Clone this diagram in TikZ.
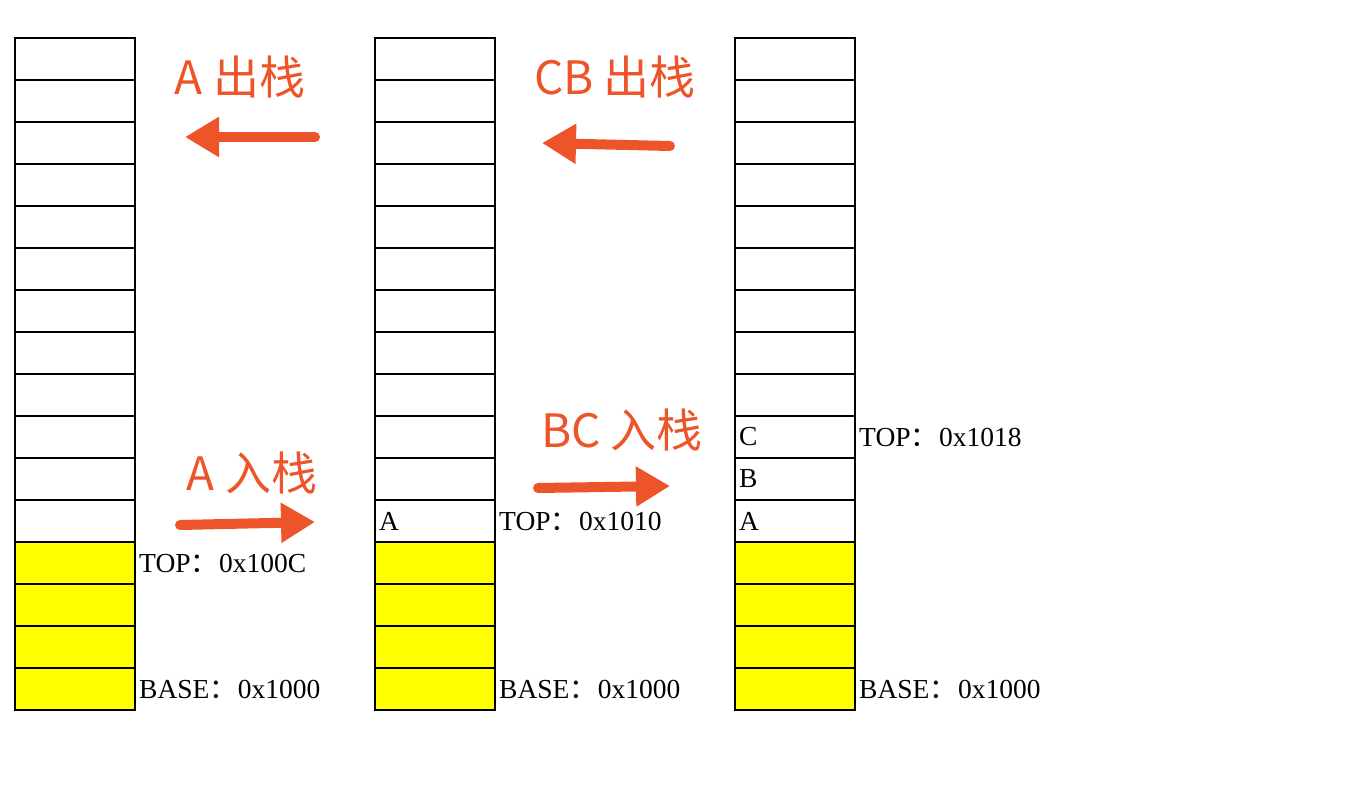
\documentclass[tikz,border=0pt]{standalone}
\usepackage{fontspec}
\usepackage{tikz}
\usetikzlibrary{arrows.meta}
\setmainfont{Liberation Serif}
\newfontfamily\cjk{Noto Sans CJK SC}
\definecolor{stackyellow}{HTML}{FFFF00}
\definecolor{oporange}{HTML}{EE5429}
\newcommand{\memotext}{\fontsize{27.5}{30}\selectfont}
\newcommand{\optext}{\cjk\fontsize{46}{54}\selectfont}
\newcommand{\sep}{{\cjk ：}\hspace{1pt}}

\begin{document}
\begin{tikzpicture}[x=1pt,y=-1pt,font=\memotext,
  cell/.style={draw=black,line width=2pt,minimum width=120pt,minimum height=42pt,inner sep=0pt,outer sep=0pt},
  memo/.style={anchor=west,inner sep=4pt},
  optitle/.style={font=\optext,text=oporange},
  oparrow/.style={draw=oporange,line width=10pt,line cap=round,-{Triangle[length=34pt,width=38pt]}}]
\useasboundingbox (0,0) rectangle (1350,800);
% the three stacks
\foreach \c/\cx in {1/75,2/435,3/795}{
  \foreach \r in {1,...,12}
    \node[cell] (s\c r\r) at (\cx,{59+42*(\r-1)}) {};
  \foreach \r in {13,...,16}
    \node[cell,fill=stackyellow] (s\c r\r) at (\cx,{59+42*(\r-1)}) {};
}
% pointers
\node[memo] (top1) at (s1r13.east) {TOP\sep 0x100C};
\node[memo] (base1) at (s1r16.east) {BASE\sep 0x1000};
\node[memo] (top2) at (s2r12.east) {TOP\sep 0x1010};
\node[memo] (base2) at (s2r16.east) {BASE\sep 0x1000};
\node[memo] (top3) at (s3r10.east) {TOP\sep 0x1018};
\node[memo] (base3) at (s3r16.east) {BASE\sep 0x1000};
% stack contents
\node[memo] (a2) at (s2r12.west) {A};
\node[memo] (c3) at (s3r10.west) {C};
\node[memo] (b3) at (s3r11.west) {B};
\node[memo] (a3) at (s3r12.west) {A};
% operations
\node[optitle] (popA) at (240,77) {A 出栈};
\node[optitle] (popCB) at (615,77) {CB 出栈};
\node[optitle] (pushA) at (252,473) {A 入栈};
\node[optitle] (pushBC) at (622,430) {BC 入栈};
\coordinate (popAtail) at (315,137);
\coordinate (popAtip) at (185,137);
\coordinate (popCBtail) at (670,146);
\coordinate (popCBtip) at (542,143);
\coordinate (pushAtail) at (180,525);
\coordinate (pushAtip) at (315,522);
\coordinate (pushBCtail) at (538,488);
\coordinate (pushBCtip) at (670,486);
\draw[oparrow] (popAtail) -- (popAtip);
\draw[oparrow] (popCBtail) -- (popCBtip);
\draw[oparrow] (pushAtail) -- (pushAtip);
\draw[oparrow] (pushBCtail) -- (pushBCtip);
\end{tikzpicture}
\end{document}
